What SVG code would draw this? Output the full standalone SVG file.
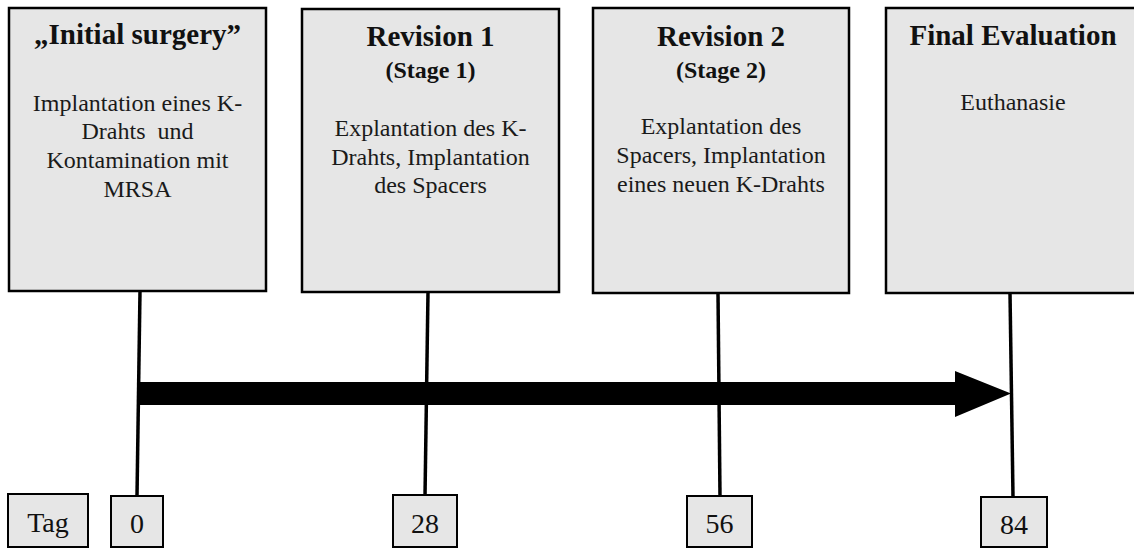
<svg xmlns="http://www.w3.org/2000/svg" width="1134" height="549" viewBox="0 0 1134 549">
<style>
.box{fill:#e6e6e6;stroke:#000;stroke-width:2.5}
.small{fill:#e6e6e6;stroke:#000;stroke-width:2}
.t{font-family:"Liberation Serif","Times New Roman",serif;text-anchor:middle;fill:#111}
.h{font-size:29px;font-weight:bold}
.s{font-size:24px;font-weight:bold}
.b{font-size:24px;fill:#1a1a1a}
.n{font-size:28px}
.ln{stroke:#000;stroke-width:3.5;fill:none}
</style>
<rect width="1134" height="549" fill="#fff"/>
<g id="connectors">
<line class="ln" x1="140" y1="291" x2="137" y2="496"/>
<line class="ln" x1="428" y1="292" x2="425" y2="496"/>
<line class="ln" x1="718" y1="293" x2="720" y2="497"/>
<line class="ln" x1="1010" y1="293" x2="1013" y2="497"/>
<polygon id="timeline-arrow" points="137,382 955,382 955,371 1011,393.5 955,417 955,405 137,405" fill="#000"/>
</g>
<g id="node-initial">
<rect class="box" x="9" y="8" width="257" height="283"/>
<text class="t h" x="137.5" y="44">„Initial surgery”</text>
<text class="t b" x="137.5" y="111">Implantation eines K-</text>
<text class="t b" x="137.5" y="139">Drahts &#160;und</text>
<text class="t b" x="137.5" y="168">Kontamination mit</text>
<text class="t b" x="137.5" y="197">MRSA</text>
</g>
<g id="node-revision1">
<rect class="box" x="302" y="9" width="257" height="283"/>
<text class="t h" x="430.5" y="46">Revision 1</text>
<text class="t s" x="430.5" y="78">(Stage 1)</text>
<text class="t b" x="430.5" y="136">Explantation des K-</text>
<text class="t b" x="430.5" y="165">Drahts, Implantation</text>
<text class="t b" x="430.5" y="193">des Spacers</text>
</g>
<g id="node-revision2">
<rect class="box" x="593" y="8" width="256" height="285"/>
<text class="t h" x="721" y="46">Revision 2</text>
<text class="t s" x="721" y="78">(Stage 2)</text>
<text class="t b" x="721" y="134">Explantation des</text>
<text class="t b" x="721" y="163">Spacers, Implantation</text>
<text class="t b" x="721" y="192">eines neuen K-Drahts</text>
</g>
<g id="node-final">
<rect class="box" x="886" y="8" width="254" height="285"/>
<text class="t h" x="1013" y="45">Final Evaluation</text>
<text class="t b" x="1013" y="110">Euthanasie</text>
</g>
<g id="day-tag">
<rect class="small" x="8" y="494" width="80" height="53"/>
<text class="t n" x="48" y="532">Tag</text>
</g>
<g id="day-0">
<rect class="small" x="111" y="496" width="52" height="51"/>
<text class="t n" x="137" y="533">0</text>
</g>
<g id="day-28">
<rect class="small" x="393" y="495" width="64" height="52"/>
<text class="t n" x="425" y="533">28</text>
</g>
<g id="day-56">
<rect class="small" x="687" y="496" width="65" height="51"/>
<text class="t n" x="719.5" y="533">56</text>
</g>
<g id="day-84">
<rect class="small" x="981" y="497" width="66" height="50"/>
<text class="t n" x="1014" y="534">84</text>
</g>
</svg>
